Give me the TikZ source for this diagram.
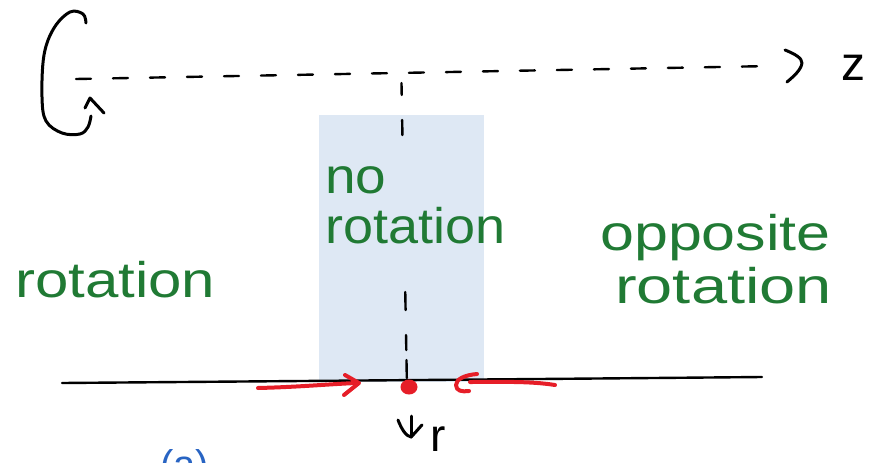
\documentclass[tikz,border=0pt]{standalone}
\usepackage{fontspec}
\setmainfont{Liberation Sans}
\definecolor{hgreen}{RGB}{32,122,52}
\definecolor{hred}{RGB}{230,30,40}
\definecolor{hblue}{RGB}{40,100,195}
\definecolor{paleblue}{RGB}{222,232,244}
\tikzset{
  pen/.style={line width=3pt, line cap=round, line join=round, black},
  redpen/.style={line width=4pt, line cap=round, line join=round, hred},
  greentext/.style={text=hgreen, font=\fontsize{50}{58}\selectfont, inner sep=0pt, align=left},
}
\begin{document}
\begin{tikzpicture}[x=1pt,y=-1pt]
\useasboundingbox (0,0) rectangle (886,463);
% shaded region
\fill[paleblue] (319,115) rectangle (484,382);
% axis line
\draw[pen, line width=2.4pt] (62,383) .. controls (300,381) and (550,379) .. (762,377) coordinate (axend);
% z axis dashed
\coordinate (zs) at (76,79);
\coordinate (ze) at (772,66);
\draw[pen, line width=2.4pt, dash pattern=on 15pt off 22pt] (zs) -- (ze);
\draw[pen] (785,50) .. controls (795,54) and (802,58) .. (802,63) .. controls (801,70) and (794,76) .. (787,82);
\node[inner sep=0pt, font=\fontsize{48}{50}\selectfont] (z) at (853,68) {z};
% rotation arrow
\draw[pen] plot[smooth, tension=0.6] coordinates {(86,23) (83,14) (70,12) (54,28) (44,55) (42,97) (46,121) (62,133) (80,134) (88,127) (91,116)};
\draw[pen] (85,108) -- (90,98) -- (104,113);
% vertical dashed line
\foreach \a/\b in {83/95,120/135,292/310,335/350,360/378}{
  \draw[pen, line width=2.4pt] ({400+\a*0.018},\a) -- ({400+\b*0.018},\b);
}
% texts
\node[greentext, anchor=base west] (no) at (325,193) {\scalebox{1.1}[1]{no}};
\node[greentext, anchor=base west] (rot1) at (325,243) {\scalebox{1.08}[1]{rotation}};
\node[greentext, anchor=base west] (rot0) at (15,297) {\scalebox{1.2}[1]{rotation}};
\node[greentext, anchor=base west] (opp) at (600,250) {\scalebox{1.22}[1]{opposite}};
\node[greentext, anchor=base west] (rot2) at (615,303) {\scalebox{1.3}[1]{rotation}};
% red arrows and dot
\coordinate (la) at (258,388);
\coordinate (lb) at (357,383);
\draw[redpen] (la) .. controls (300,387) and (330,384) .. (lb);
\draw[redpen] (345,375) -- (359,383) -- (344,395);
\fill[hred] (409,387) ellipse (8.5 and 7.5) node (dot) {};
\coordinate (ra) at (555,385);
\coordinate (rb) at (470,382);
\draw[redpen] (ra) .. controls (530,381) and (500,382) .. (rb);
\draw[redpen] (477,374) .. controls (465,375) and (456,379) .. (456,385) .. controls (456,391) and (462,392) .. (469,391);
% r direction
\draw[pen] (411,416) -- (411,437);
\draw[pen] (398,420) .. controls (402,430) and (406,436) .. (411,437) .. controls (416,432) and (419,428) .. (422,425);
\node[inner sep=0pt, font=\fontsize{46}{50}\selectfont, anchor=base] (r) at (438,451) {r};
% cut-off label
\node[inner sep=0pt, text=hblue, font=\fontsize{40}{44}\selectfont, anchor=north west] (a) at (160,449) {(a)};
\end{tikzpicture}
\end{document}
